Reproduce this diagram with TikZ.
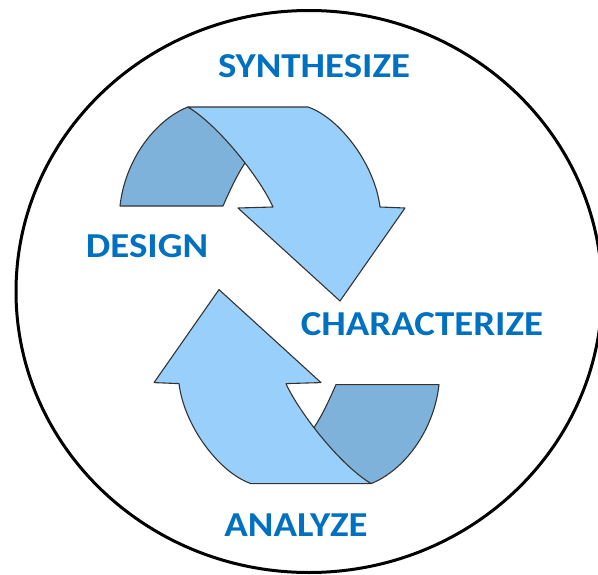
\documentclass[tikz,border=0pt]{standalone}
\usepackage{fontspec}
\setmainfont{Carlito}[FakeStretch=1.11]
\usepackage{tikz}

\definecolor{phaseblue}{HTML}{0070C0}
\definecolor{bandlight}{HTML}{99CFFB}
\definecolor{bandback}{HTML}{7FB2DA}
\definecolor{bandline}{HTML}{333333}

\begin{document}
\begin{tikzpicture}[
      x=1pt, y=-1pt,
      % Define compact styles
      phase/.style={inner sep=0pt, text=phaseblue, font=\fontsize{35}{40}\selectfont\bfseries},
      front/.style={draw=bandline, line width=1.1pt, fill=bandlight, line join=round},
      back/.style={draw=bandline, line width=1.1pt, fill=bandback, line join=round},
      ring/.style={draw=black, line width=3pt}
    ]
    \useasboundingbox (0,0) rectangle (598,574);
    \clip (0,0) rectangle (598,574);

    % Outer ring
    \draw[ring] (309,291.5) ellipse [x radius=293pt, y radius=281pt];

    % Curved arrows - the lower one is the upper one turned half round
    \foreach \ang in {0,180}{
      \begin{scope}[rotate around={\ang:(279.5,295.3)}]
        \draw[back] (120,206) -- (223,206) .. controls (230,190) and (237,175) .. (245,163) -- (262,150) -- (188,107) .. controls (155,120) and (125,160) .. (120,206) -- cycle;
        \draw[front] (188,107) -- (308,107) .. controls (340,118) and (375,165) .. (380,207) -- (405,208) -- (340,301) -- (238,208) -- (273,207) .. controls (262,182) and (222,128) .. (188,107) -- cycle;
      \end{scope}
    }

    % Phase labels
    \node[phase] (synth) at (314,66) {SYNTHESIZE};
    \node[phase] (design) at (147,246.5) {DESIGN};
    \node[phase] (charact) at (422,324.5) {CHARACTERIZE};
    \node[phase] (analyze) at (296,525) {ANALYZE};

  \end{tikzpicture}
\end{document}
